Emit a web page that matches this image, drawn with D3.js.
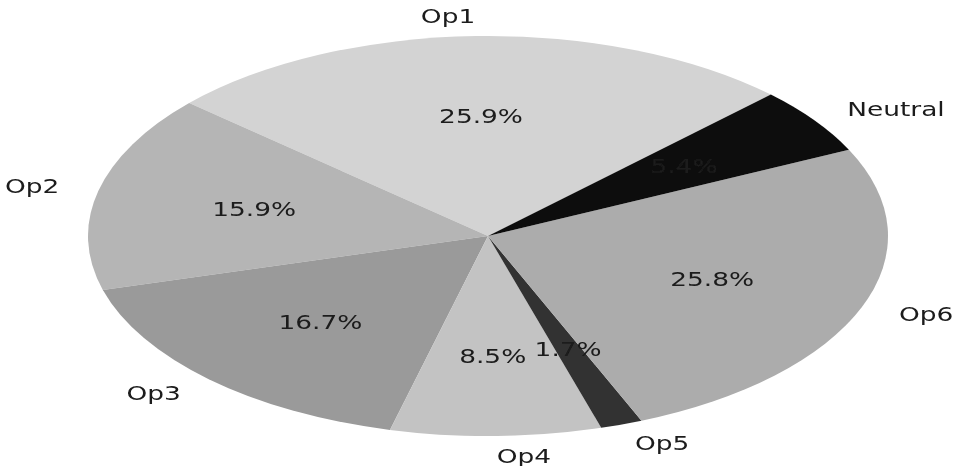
<!DOCTYPE html>
<html>
<head>
<meta charset="utf-8">
<script src="https://cdn.jsdelivr.net/npm/d3@7"></script>
<style>
  html, body { margin: 0; padding: 0; background: #fff; }
  svg { display: block; }
</style>
</head>
<body>
<svg id="chart" width="962" height="466"></svg>
<script>
// Share of responses per option
const categories = ["Op1", "Op2", "Op3", "Op4", "Op5", "Op6", "Neutral"];
const values = [25.9, 15.9, 16.7, 8.5, 1.7, 25.8, 5.4];
const colors = ["#d3d3d3", "#b5b5b5", "#9a9a9a", "#c3c3c3", "#333333", "#acacac", "#111111"];

const W = 962, H = 466;
const cx = 488, cy = 236, rx = 400, ry = 200;
const sx = rx / ry;          // horizontal stretch of the whole pie
const textStretch = 1.39;    // horizontal stretch of the labels
const fontSize = 19;

const svg = d3.select("#chart");

const defs = svg.append("defs");
defs.append("filter").attr("id", "soft")
  .attr("x", "-5%").attr("y", "-5%").attr("width", "110%").attr("height", "110%")
  .append("feGaussianBlur").attr("stdDeviation", 0.5);

const root = svg.append("g").attr("filter", "url(#soft)");

// Counter-clockwise pie starting 45° above the 3 o'clock direction
const start = Math.PI / 4;
const pie = d3.pie().sort(null).value(d => d.v)
  .startAngle(start).endAngle(start - 2 * Math.PI);
const data = categories.map((c, i) => ({ c, v: values[i], col: colors[i] }));
const arcs = pie(data);

const arc = d3.arc().innerRadius(0).outerRadius(ry);

root.append("g")
  .attr("transform", `translate(${cx},${cy}) scale(${sx},1)`)
  .selectAll("path").data(arcs).join("path")
  .attr("d", arc)
  .attr("fill", d => d.data.col);

function pos(d, k) {
  const a = (d.startAngle + d.endAngle) / 2;
  return { x: cx + Math.sin(a) * rx * k, y: cy - Math.cos(a) * ry * k, dir: Math.sin(a) };
}

const labels = root.append("g")
  .attr("font-family", "'DejaVu Sans', sans-serif")
  .attr("font-size", fontSize)
  .attr("fill", "#1a1a1a");

// Category names outside the pie
arcs.forEach(d => {
  const p = pos(d, 1.1);
  labels.append("g").attr("transform", `translate(${p.x},${p.y}) scale(${textStretch},1)`)
    .append("text")
    .attr("text-anchor", p.dir < 0 ? "end" : "start")
    .attr("dominant-baseline", "central")
    .text(d.data.c);
});

// Percentages inside the slices
arcs.forEach(d => {
  const p = pos(d, 0.6);
  labels.append("g").attr("transform", `translate(${p.x},${p.y}) scale(${textStretch},1)`)
    .append("text")
    .attr("text-anchor", "middle")
    .attr("dominant-baseline", "central")
    .text(d.data.v.toFixed(1) + "%");
});
</script>
</body>
</html>
